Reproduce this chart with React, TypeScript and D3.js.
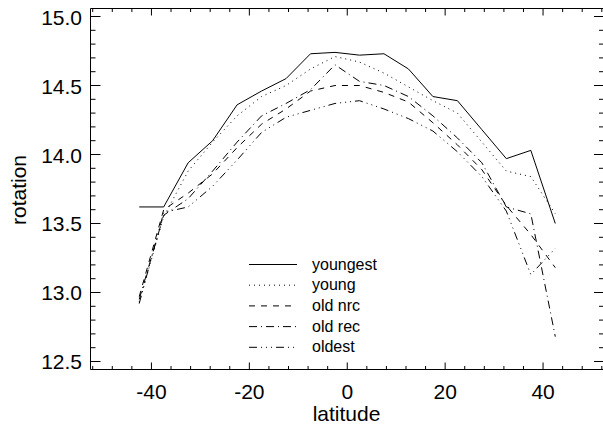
import React from "react";
import * as d3 from "d3";

const latitudes = [-42.5, -37.5, -32.5, -27.5, -22.5, -17.5, -12.5, -7.5, -2.5, 2.5, 7.5, 12.5, 17.5, 22.5, 27.5, 32.5, 37.5, 42.5];
const youngest = [13.62, 13.62, 13.94, 14.10, 14.36, 14.46, 14.55, 14.73, 14.74, 14.72, 14.73, 14.62, 14.42, 14.39, 14.18, 13.97, 14.03, 13.50];
const young = [12.93, 13.55, 13.88, 14.09, 14.28, 14.42, 14.50, 14.62, 14.71, 14.67, 14.59, 14.49, 14.39, 14.30, 14.09, 13.88, 13.84, 13.57];
const oldNrc = [12.97, 13.60, 13.72, 13.86, 14.05, 14.22, 14.33, 14.46, 14.50, 14.50, 14.45, 14.38, 14.23, 14.07, 13.89, 13.63, 13.42, 13.18];
const oldRec = [12.95, 13.56, 13.68, 13.88, 14.09, 14.28, 14.37, 14.47, 14.65, 14.53, 14.50, 14.42, 14.28, 14.12, 13.94, 13.62, 13.57, 12.68];
const oldest = [12.92, 13.58, 13.62, 13.77, 13.96, 14.16, 14.27, 14.32, 14.37, 14.39, 14.33, 14.26, 14.17, 14.02, 13.84, 13.59, 13.13, 13.32];

const seriesNames = ["youngest", "young", "old nrc", "old rec", "oldest"];
const seriesValues = [youngest, young, oldNrc, oldRec, oldest];
const dashes = ["none", "1,4", "6,6", "8,4,1,4", "8,4,1,4,1,4,1,4"];

const xMajor = [-40, -20, 0, 20, 40];
const yMajor = [12.5, 13.0, 13.5, 14.0, 14.5, 15.0];

const W = 603;
const H = 427;
const FONT = "'Liberation Sans', Arial, Helvetica, sans-serif";

export default function App() {
  const x = d3.scaleLinear().domain([-52.45, 52.45]).range([90.5, 604]);
  const y = d3.scaleLinear().domain([12.442, 15.058]).range([369.5, 8.5]);
  const [x0, x1] = x.range();
  const [yb, yt] = y.range();

  const xMinor = d3.range(-52, 52.01, 4);
  const yMinor = d3.range(12.5, 15.001, 0.1);

  const line = d3
    .line<number>()
    .x((_, i) => x(latitudes[i]))
    .y((d) => y(d));

  const legX0 = 249;
  const legX1 = 297;
  const legTextX = 312;
  const legY0 = 264.5;
  const legDy = 20.7;

  return (
    <svg
      width={W}
      height={H}
      style={{ position: "absolute", left: 0, top: 0, background: "#fff" }}
      fontFamily={FONT}
    >
      <rect x={0} y={0} width={W} height={H} fill="#fff" />
      {/* axes box */}
      <g stroke="#000" strokeWidth={1} fill="none">
        <line x1={x0} x2={x1} y1={yb} y2={yb} />
        <line x1={x0} x2={x1} y1={yt} y2={yt} />
        <line x1={x0} x2={x0} y1={yt} y2={yb} />
        <line x1={x1} x2={x1} y1={yt} y2={yb} />
        {xMinor.map((t) => {
          const major = xMajor.includes(Math.round(t));
          const len = major ? 7 : 3.5;
          return (
            <g key={"xt" + t}>
              <line x1={x(t)} x2={x(t)} y1={yb} y2={yb - len} />
              <line x1={x(t)} x2={x(t)} y1={yt} y2={yt + len} />
            </g>
          );
        })}
        {yMinor.map((t) => {
          const major = yMajor.some((m) => Math.abs(m - t) < 1e-6);
          const len = major ? 10 : 5;
          return (
            <g key={"yt" + t.toFixed(2)}>
              <line x1={x0} x2={x0 + len} y1={y(t)} y2={y(t)} />
              <line x1={x1} x2={x1 - len} y1={y(t)} y2={y(t)} />
            </g>
          );
        })}
      </g>
      {/* tick labels */}
      <g fontSize={21} fill="#000">
        {xMajor.map((t) => (
          <text key={"xl" + t} x={x(t)} y={399} textAnchor="middle">
            {String(t)}
          </text>
        ))}
        {yMajor.map((t) => (
          <text key={"yl" + t} x={82} y={y(t) + 8} textAnchor="end">
            {t.toFixed(1)}
          </text>
        ))}
      </g>
      <text x={346.5} y={421} fontSize={21} textAnchor="middle" fill="#000">
        latitude
      </text>
      <text
        transform={`translate(25.5,190) rotate(-90)`}
        fontSize={21}
        textAnchor="middle"
        fill="#000"
      >
        rotation
      </text>
      {/* data lines */}
      <g fill="none" stroke="#000" strokeWidth={1}>
        {seriesValues.map((vals, i) => (
          <path
            key={"s" + i}
            d={line(vals) || ""}
            strokeDasharray={dashes[i] === "none" ? undefined : dashes[i]}
          />
        ))}
      </g>
      {/* legend */}
      <g>
        {seriesNames.map((name, i) => {
          const ly = legY0 + i * legDy;
          return (
            <g key={"lg" + i}>
              <line
                x1={legX0}
                x2={legX1}
                y1={ly}
                y2={ly}
                stroke="#000"
                strokeWidth={1}
                strokeDasharray={dashes[i] === "none" ? undefined : dashes[i]}
              />
              <text x={legTextX} y={ly + 5} fontSize={16} fill="#000">
                {name}
              </text>
            </g>
          );
        })}
      </g>
    </svg>
  );
}
